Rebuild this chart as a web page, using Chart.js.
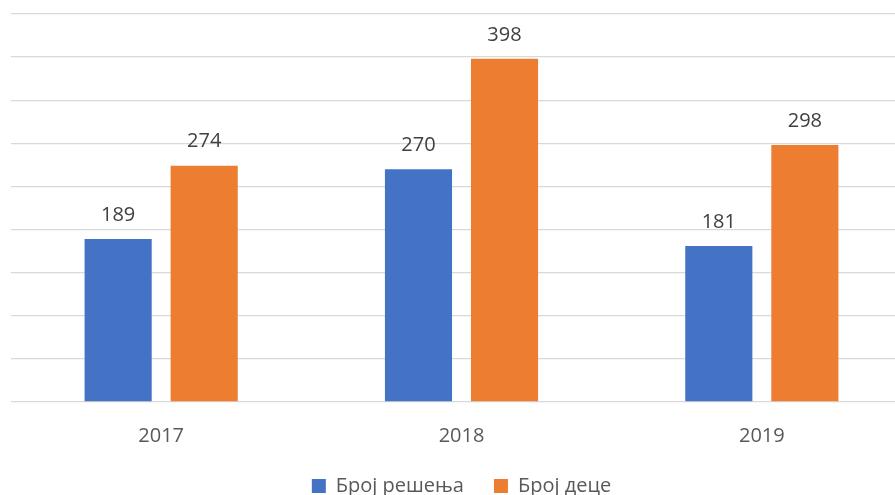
<!DOCTYPE html>
<html>
<head>
<meta charset="utf-8">
<script src="https://cdn.jsdelivr.net/npm/chart.js@4"></script>
<style>
  html, body { margin: 0; padding: 0; background: #fff; overflow: hidden; }
  #wrap { position: relative; width: 912px; height: 506px; }
</style>
</head>
<body>
<div id="wrap"><canvas id="chart"></canvas></div>
<script>
// data
const years = ['2017', '2018', '2019'];
const brojResenja = [189, 270, 181];
const brojDece = [274, 398, 298];

const FONT = '"Open Sans", sans-serif';

// simple value labels above each bar
const valueLabels = {
  id: 'valueLabels',
  afterDatasetsDraw(chart) {
    const ctx = chart.ctx;
    ctx.save();
    ctx.font = '20px ' + FONT;
    ctx.fillStyle = '#404040';
    ctx.textAlign = 'center';
    ctx.textBaseline = 'bottom';
    chart.data.datasets.forEach((ds, i) => {
      chart.getDatasetMeta(i).data.forEach((bar, j) => {
        ctx.fillText(ds.data[j], bar.x, bar.y - 14);
      });
    });
    ctx.restore();
  }
};

new Chart(document.getElementById('chart'), {
  type: 'bar',
  data: {
    labels: years,
    datasets: [
      { label: 'Број решења', data: brojResenja, backgroundColor: '#4472c4' },
      { label: 'Број деце', data: brojDece, backgroundColor: '#ed7d31' }
    ]
  },
  options: {
    responsive: true,
    maintainAspectRatio: false,
    animation: false,
    categoryPercentage: 0.573,
    barPercentage: 0.78,
    layout: { padding: { left: 11, top: 14, right: 0, bottom: 0 } },
    scales: {
      x: {
        grid: { display: false },
        border: { display: false },
        ticks: { color: '#595959', font: { family: FONT, size: 20 }, padding: 14 },
        afterFit(scale) { scale.height = 44; }
      },
      y: {
        min: 0,
        max: 450,
        ticks: { display: false, stepSize: 50 },
        border: { display: false },
        grid: { color: '#d9d9d9', lineWidth: 1.3, drawTicks: false }
      }
    },
    plugins: {
      tooltip: { enabled: false },
      legend: {
        position: 'bottom',
        labels: {
          color: '#595959',
          font: { family: FONT, size: 20 },
          boxWidth: 14,
          boxHeight: 14,
          padding: 30
        }
      }
    }
  },
  plugins: [valueLabels]
});
</script>
</body>
</html>
